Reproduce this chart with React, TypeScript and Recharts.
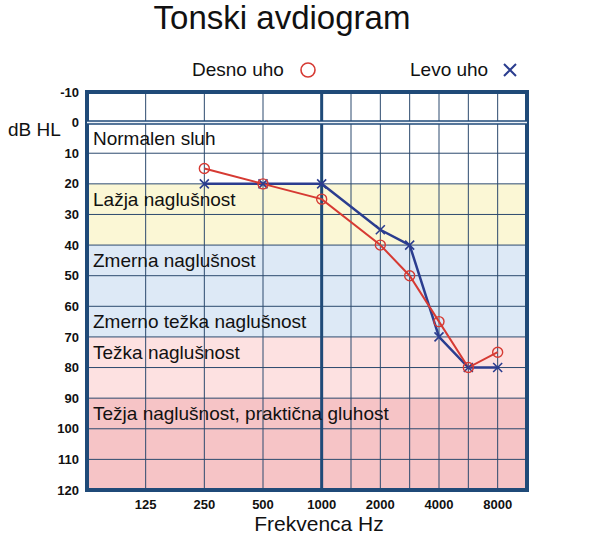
import React from 'react';
import {
    ComposedChart,
    Line,
    XAxis,
    YAxis,
    CartesianGrid,
    ReferenceArea,
    ReferenceLine,
} from 'recharts';

// measured frequencies (Hz) and hearing thresholds (dB HL)
const FREQS = [250, 500, 1000, 2000, 3000, 4000, 6000, 8000];
const RIGHT_EAR = [15, 20, 25, 40, 50, 65, 80, 75];
const LEFT_EAR = [20, 20, 20, 35, 40, 70, 80, 80];

// axis frequencies: grid lines on all of them, labels only on octaves
const AXIS_FREQS = [62.5, 125, 250, 500, 1000, 1500, 2000, 3000, 4000, 6000, 8000, 12000];
const LABELED_FREQS = [125, 250, 500, 1000, 2000, 4000, 8000];
const DB_TICKS = [-10, 0, 10, 20, 30, 40, 50, 60, 70, 80, 90, 100, 110, 120];

const BANDS = [
    { from: -10, to: 20, fill: '#ffffff' },
    { from: 20, to: 40, fill: '#fbf7d5' },
    { from: 40, to: 70, fill: '#dde9f6' },
    { from: 70, to: 90, fill: '#fde1e1' },
    { from: 90, to: 120, fill: '#f6c4c6' },
];

const BAND_LABELS = [
    { text: 'Normalen sluh', row: 0 },
    { text: 'Lažja naglušnost', row: 20 },
    { text: 'Zmerna naglušnost', row: 40 },
    { text: 'Zmerno težka naglušnost', row: 60 },
    { text: 'Težka naglušnost', row: 70 },
    { text: 'Težja naglušnost, praktična gluhost', row: 90 },
];

const RED = '#d63a33';
const BLUE = '#2b3d8f';
const GRID = '#2c4a6e';
const BORDER = '#1f4a78';
const FONT = '"Liberation Sans", Arial, sans-serif';

// audiogram position: octaves from 1 kHz, snapped to half octaves (3000 -> 1.5)
const pos = (f: number) => Math.round(2 * Math.log2(f / 1000)) / 2;

const data = FREQS.map((f, i) => ({ pos: pos(f), right: RIGHT_EAR[i], left: LEFT_EAR[i] }));
const xTicks = AXIS_FREQS.map(pos);
const rowFills = DB_TICKS.slice(0, -1).map(
    (db) => (BANDS.find((b) => db >= b.from && db < b.to) || BANDS[0]).fill
);

const labelFor = (p: number) => {
    const f = LABELED_FREQS.find((lf) => pos(lf) === p);
    return f ? String(f) : '';
};

const CrossDot = (props: any) => {
    const { cx, cy, index } = props;
    if (cx == null || cy == null) return null;
    const s = 4.5;
    return (
        <path
            key={`x-${index}`}
            d={`M${cx - s},${cy - s}L${cx + s},${cy + s}M${cx - s},${cy + s}L${cx + s},${cy - s}`}
            stroke={BLUE}
            strokeWidth={1.6}
            fill="none"
        />
    );
};

const LegendRow = () => (
    <div style={{ position: 'absolute', left: 0, top: 59, width: 611, height: 26, fontSize: 19, color: '#111' }}>
        <span style={{ position: 'absolute', left: 192, top: 0 }}>Desno uho</span>
        <svg style={{ position: 'absolute', left: 298, top: 1 }} width={20} height={20}>
            <circle cx={10} cy={10} r={7} fill="none" stroke={RED} strokeWidth={1.6} />
        </svg>
        <span style={{ position: 'absolute', left: 410, top: 0 }}>Levo uho</span>
        <svg style={{ position: 'absolute', left: 500, top: 1 }} width={20} height={20}>
            <path d="M4,4L16,16M4,16L16,4" stroke={BLUE} strokeWidth={2} />
        </svg>
    </div>
);

export default function App() {
    return (
        <div style={{ position: 'absolute', left: 0, top: 0, width: 611, height: 535, fontFamily: FONT, background: '#fff' }}>
            <ComposedChart
                width={611}
                height={535}
                data={data}
                margin={{ top: 92, right: 84, bottom: 0, left: 57 }}
            >
                <CartesianGrid
                    stroke={GRID}
                    strokeWidth={1}
                    horizontalFill={rowFills}
                    fillOpacity={1}
                />
                <XAxis
                    type="number"
                    dataKey="pos"
                    domain={[-4, 3.5]}
                    ticks={xTicks}
                    interval={0}
                    tickFormatter={labelFor}
                    axisLine={false}
                    tickLine={false}
                    tickMargin={4}
                    height={45}
                    tick={{ fill: '#111', fontSize: 13, fontWeight: 'bold', fontFamily: FONT }}
                    label={{ value: 'Frekvenca Hz', position: 'insideBottom', offset: 4, dx: 12, fill: '#111', fontSize: 21, fontFamily: FONT }}
                />
                <YAxis
                    type="number"
                    domain={[-10, 120]}
                    reversed
                    ticks={DB_TICKS}
                    interval={0}
                    axisLine={false}
                    tickLine={false}
                    width={30}
                    tick={{ fill: '#111', fontSize: 13, fontWeight: 'bold', fontFamily: FONT }}
                />
                {BAND_LABELS.map((b) => (
                    <ReferenceArea
                        key={b.text}
                        y1={b.row}
                        y2={b.row + 10}
                        fill="none"
                        stroke="none"
                        label={{ value: b.text, position: 'insideLeft', offset: 6, fill: '#111', fontSize: 19, fontFamily: FONT }}
                    />
                ))}
                <ReferenceLine x={0} stroke={BORDER} strokeWidth={3} />
                <ReferenceLine y={0} stroke={BORDER} strokeWidth={4.5} />
                <ReferenceLine y={0} stroke="#eef3f9" strokeWidth={1.5} />
                <ReferenceArea x1={-4} x2={3.5} y1={-10} y2={120} fill="none" stroke={BORDER} strokeWidth={4} />
                <Line
                    dataKey="left"
                    stroke={BLUE}
                    strokeWidth={2.5}
                    dot={<CrossDot />}
                    activeDot={false}
                    isAnimationActive={false}
                />
                <Line
                    dataKey="right"
                    stroke={RED}
                    strokeWidth={2}
                    dot={{ r: 5, fill: 'none', stroke: RED, strokeWidth: 1.4 }}
                    activeDot={false}
                    isAnimationActive={false}
                />
            </ComposedChart>
            <div style={{ position: 'absolute', left: 0, top: 0, width: 564, textAlign: 'center', fontSize: 33, lineHeight: '36px', color: '#111' }}>
                Tonski avdiogram
            </div>
            <div style={{ position: 'absolute', left: 8, top: 119, fontSize: 19, lineHeight: '22px', color: '#111' }}>
                dB HL
            </div>
            <LegendRow />
        </div>
    );
}
